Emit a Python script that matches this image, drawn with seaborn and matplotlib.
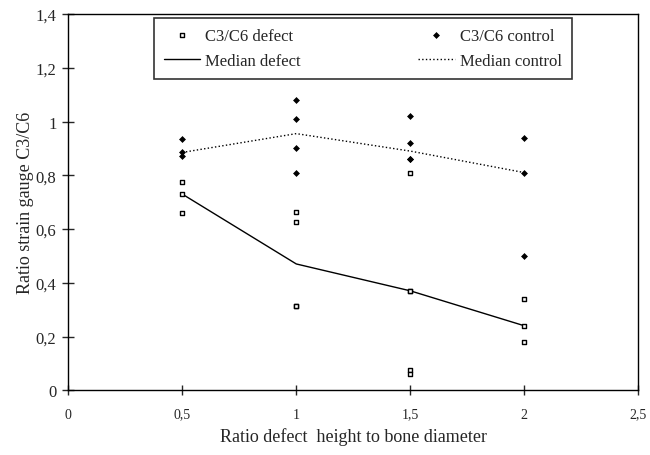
import matplotlib
matplotlib.use("Agg")
import matplotlib.pyplot as plt
import seaborn as sns
import pandas as pd
from matplotlib.ticker import FuncFormatter

# ---- data ----
defect_x = [0.5, 0.5, 0.5, 1, 1, 1, 1, 1.5, 1.5, 1.5, 1.5, 1.5, 2, 2, 2]
defect_y = [0.775, 0.73, 0.66, 0.665, 0.625, 0.315, 0.315, 0.81, 0.37, 0.37, 0.075, 0.06, 0.34, 0.24, 0.18]
control_x = [0.5, 0.5, 0.5, 1, 1, 1, 1, 1.5, 1.5, 1.5, 1.5, 2, 2, 2]
control_y = [0.935, 0.885, 0.87, 1.08, 1.01, 0.90, 0.81, 1.02, 0.92, 0.86, 0.86, 0.94, 0.81, 0.50]
median_x = [0.5, 1, 1.5, 2]
median_defect = [0.73, 0.47, 0.37, 0.24]
median_control = [0.885, 0.955, 0.89, 0.81]
x_ticks = [0, 0.5, 1, 1.5, 2, 2.5]
y_ticks = [0, 0.2, 0.4, 0.6, 0.8, 1, 1.2, 1.4]

sns.set_style("white")
plt.rcParams['font.family'] = ['Liberation Serif', 'DejaVu Serif']

fig = plt.figure(figsize=(6.5, 4.56), dpi=100)
ax = fig.add_axes([0.105, 0.142, 0.877, 0.825])

df_def = pd.DataFrame({"x": defect_x, "y": defect_y})
df_con = pd.DataFrame({"x": control_x, "y": control_y})
df_med = pd.DataFrame({"x": median_x, "d": median_defect, "c": median_control})

sns.scatterplot(data=df_def, x="x", y="y", ax=ax, marker="s", s=9,
                facecolor="white", edgecolor="black", linewidth=1.0,
                label="C3/C6 defect", zorder=3)
sns.lineplot(data=df_med, x="x", y="d", ax=ax, color="black", linewidth=1.0,
             label="Median defect", zorder=2)
sns.scatterplot(data=df_con, x="x", y="y", ax=ax, marker="D", s=9,
                color="black", edgecolor="black", linewidth=0.5,
                label="C3/C6 control", zorder=3)
sns.lineplot(data=df_med, x="x", y="c", ax=ax, color="black", linewidth=1.0,
             linestyle=":", label="Median control", zorder=2)

ax.set_xlim(0, 2.5)
ax.set_ylim(0, 1.4)
ax.set_xticks(x_ticks)
ax.set_yticks(y_ticks)
fmt = FuncFormatter(lambda v, p: ("%g" % v).replace(".", ","))
ax.xaxis.set_major_formatter(fmt)
ax.yaxis.set_major_formatter(fmt)
ax.tick_params(axis="y", direction="inout", length=9, width=1, labelsize=12, pad=4, left=True)
ax.tick_params(axis="x", direction="inout", length=7, width=1, labelsize=10, pad=9, bottom=True)
for s in ax.spines.values():
    s.set_color("black")
    s.set_linewidth(1.0)

ax.set_xlabel("Ratio defect  height to bone diameter", fontsize=13, labelpad=5)
ax.set_ylabel("Ratio strain gauge C3/C6", fontsize=13, labelpad=1)

leg = ax.legend(loc="lower left", bbox_to_anchor=(0.135, 0.806, 0.763, 0.175),
                mode="expand", ncol=2, frameon=True, fancybox=False,
                edgecolor="black", fontsize=12, handlelength=2.2,
                handletextpad=0.3, borderpad=0.6, labelspacing=0.55,
                markerscale=1.0)
leg.get_frame().set_linewidth(1.2)

fig.savefig("out.png", dpi=100)
